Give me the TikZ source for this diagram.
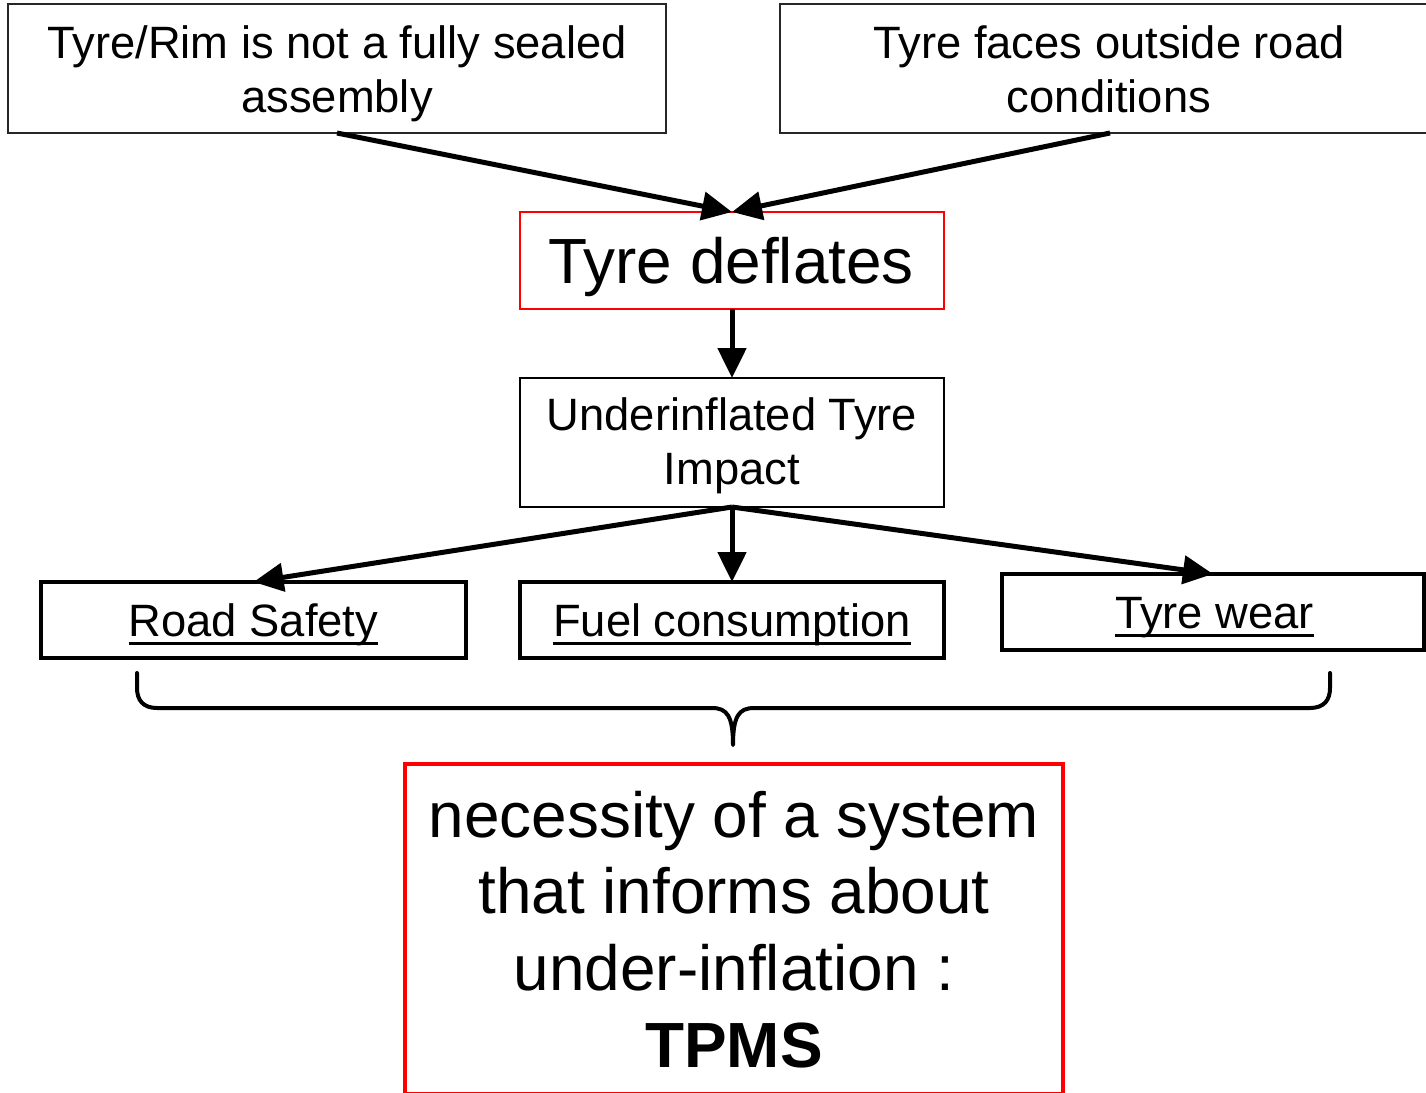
\documentclass[tikz,border=0pt]{standalone}
\usepackage{fontspec}
\setmainfont{Liberation Sans}
\usetikzlibrary{arrows.meta}
\newsavebox\ulbox
\newcommand\ulx[1]{\sbox\ulbox{#1}\rlap{\rule[-0.184em]{\wd\ulbox}{0.058em}}\usebox\ulbox}
\newcommand\lns[1]{\begin{tabular}{@{}c@{}}#1\end{tabular}}
\begin{document}
\begin{tikzpicture}[x=0.75pt,y=-0.75pt,
  box/.style={draw, rectangle, inner sep=0pt, outer sep=0pt},
  thinbox/.style={box, line width=1.1pt, draw=black!85},
  midbox/.style={box, line width=1.5pt},
  thickbox/.style={box, line width=3pt},
  redthin/.style={box, line width=1.1pt, draw=red},
  redthick/.style={box, line width=3pt, draw=red},
  sm/.style={font=\fontsize{34pt}{40.8pt}\selectfont, inner sep=0pt, anchor=north},
  lg/.style={font=\fontsize{47.9pt}{57.5pt}\selectfont, inner sep=0pt, anchor=north},
  arr/.style={line width=3.75pt, -{Triangle[length=22.5pt,width=21pt]}},
  bracestyle/.style={line width=3pt, line join=round, line cap=round}]
\clip (0,0) rectangle (1426,1092);
\fill[white] (0,0) rectangle (1426,1092);
% boxes
\node[thinbox, minimum width=493.5pt, minimum height=96.75pt] (tl) at (337,68.5) {};
\node[thinbox, minimum width=495pt, minimum height=96.75pt] (tr) at (1110,68.5) {};
\node[redthin, minimum width=318pt, minimum height=72.75pt] (td) at (732,260.5) {};
\node[midbox, minimum width=318pt, minimum height=96.75pt] (ui) at (732,442.5) {};
\node[thickbox, minimum width=318.75pt, minimum height=57pt] (rs) at (253.5,620) {};
\node[thickbox, minimum width=318pt, minimum height=57pt] (fc) at (732,620) {};
\node[thickbox, minimum width=316.5pt, minimum height=57pt] (tw) at (1213,612) {};
\node[redthick, minimum width=493.5pt, minimum height=247.5pt] (nec) at (734,929) {};
% texts
\node[sm] (tlt) at (337,19.9) {\lns{Tyre/Rim is not a fully sealed\\assembly}};
\node[sm] (trt) at (1109,19.9) {\lns{Tyre faces outside road\\conditions}};
\node[lg] (tdt) at (731,229.6) {\lns{Tyre deflates}};
\node[sm] (uit) at (732,391.9) {\lns{Underinflated Tyre\\Impact}};
\node[sm] (rst) at (253.5,597.9) {\lns{\ulx{Road Safety}}};
\node[sm] (fct) at (732,597.9) {\lns{\ulx{Fuel consumption}}};
\node[sm] (twt) at (1214.5,589.9) {\lns{\ulx{Tyre wear}}};
\node[lg] (nect) at (734,783.3) {\lns{necessity of a system\\that informs about\\under-inflation :\\\textbf{TPMS}}};
% connectors
\draw[arr] (tl.south) -- (td.north);
\draw[arr] (tr.south) -- (td.north);
\draw[arr] (td.south) -- (ui.north);
\draw[arr] (ui.south) -- (rs.north);
\draw[arr] (ui.south) -- (fc.north);
\draw[arr] (ui.south) -- (tw.north);
% brace
\coordinate (bl) at (137,673);
\coordinate (br) at (1330,673);
\coordinate (btip) at (733,745);
\draw[bracestyle] (bl) -- (137,688) .. controls (137,700) and (143,708) .. (157,708)
  -- (712,708) .. controls (727,708) and (733,716) .. (btip)
  .. controls (733,716) and (739,708) .. (754,708)
  -- (1310,708) .. controls (1324,708) and (1330,700) .. (1330,688) -- (br);
\end{tikzpicture}
\end{document}
